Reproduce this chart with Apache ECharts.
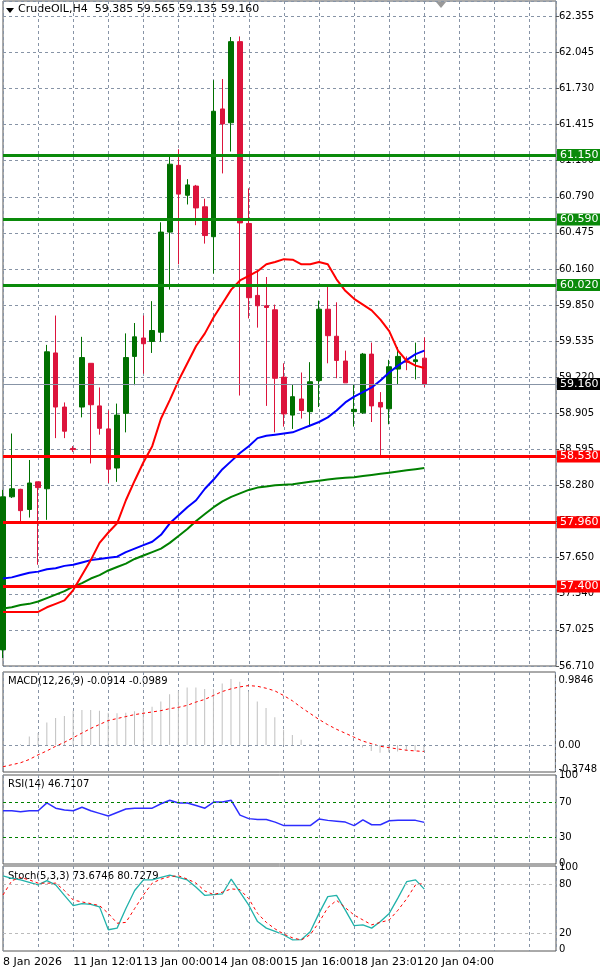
<!DOCTYPE html>
<html><head><meta charset="utf-8">
<script src="https://cdn.jsdelivr.net/npm/echarts@6/dist/echarts.min.js"></script>
<style>html,body{margin:0;padding:0;background:#fff}#c{width:600px;height:973px}</style>
</head><body><div id="c"></div>
<script>
const N = 64;
const xLabels = {0:'8 Jan 2026',8:'11 Jan 12:01',16:'13 Jan 00:00',24:'14 Jan 08:00',32:'15 Jan 16:00',40:'18 Jan 23:01',48:'20 Jan 04:00'};
const opens  = [56.85,58.18,58.245,58.07,58.31,58.25,59.43,58.96,58.60,58.96,59.34,58.97,58.77,58.43,58.905,59.40,59.56,59.53,59.61,60.48,61.06,60.80,60.88,60.70,60.44,61.55,61.43,62.135,60.555,59.93,59.84,59.805,59.22,58.89,59.03,58.92,59.19,59.81,59.575,59.36,58.92,58.91,59.42,59.00,58.945,59.29,59.36,59.355,59.385];
const closes = [58.18,58.25,58.06,58.30,58.26,59.44,58.96,58.75,58.59,59.39,58.98,58.775,58.42,58.89,59.39,59.57,59.51,59.625,60.48,61.07,60.81,60.89,60.69,60.45,61.53,61.42,62.135,60.56,59.91,59.84,59.825,59.21,58.90,59.05,58.93,59.18,59.81,59.58,59.365,59.17,58.94,59.42,58.97,58.96,59.31,59.40,59.35,59.37,59.16];
const lows   = [56.78,58.17,57.96,58.00,57.59,57.98,58.69,58.69,58.57,58.87,58.47,58.72,58.30,58.31,58.74,59.15,59.25,59.43,59.53,59.98,60.20,60.72,60.54,60.38,60.12,60.99,61.18,59.06,59.73,59.65,58.97,58.74,58.79,58.77,58.86,58.79,58.96,59.34,59.21,59.17,58.79,58.90,58.83,58.54,58.81,59.16,59.28,59.20,59.135];
const highs  = [58.24,58.73,58.25,58.50,58.31,59.50,59.755,59.00,58.62,59.57,59.34,59.13,58.93,58.99,59.60,59.69,59.755,59.88,60.565,61.14,61.20,60.94,60.89,60.77,61.80,61.81,62.175,62.18,60.86,60.15,60.09,59.85,59.34,59.16,59.26,59.35,59.885,60.015,59.87,59.45,59.16,59.43,59.52,59.09,59.37,59.48,59.40,59.52,59.565];
const maRed   = [57.18,57.18,57.18,57.18,57.18,57.22,57.25,57.28,57.37,57.50,57.63,57.78,57.87,57.95,58.15,58.32,58.48,58.62,58.86,59.02,59.19,59.34,59.49,59.60,59.74,59.86,59.98,60.06,60.10,60.14,60.20,60.22,60.245,60.24,60.20,60.20,60.22,60.20,60.07,59.97,59.90,59.85,59.80,59.72,59.62,59.45,59.36,59.32,59.30];
const maBlue  = [57.47,57.48,57.50,57.52,57.53,57.55,57.56,57.58,57.59,57.61,57.63,57.64,57.65,57.66,57.70,57.73,57.76,57.79,57.85,57.95,58.02,58.09,58.15,58.25,58.33,58.42,58.49,58.56,58.62,58.69,58.71,58.72,58.73,58.74,58.77,58.80,58.83,58.87,58.93,59.00,59.05,59.09,59.13,59.19,59.26,59.32,59.37,59.42,59.45];
const maGreen = [57.21,57.22,57.24,57.25,57.27,57.30,57.33,57.36,57.40,57.43,57.47,57.50,57.54,57.57,57.60,57.64,57.67,57.70,57.73,57.78,57.84,57.90,57.97,58.03,58.09,58.14,58.18,58.21,58.24,58.26,58.27,58.28,58.285,58.29,58.30,58.31,58.32,58.33,58.34,58.345,58.35,58.36,58.37,58.38,58.39,58.40,58.41,58.42,58.43];
const supportLevels = [58.530,57.960,57.400];
const resistLevels = [61.150,60.590,60.020];
const lastPrice = 59.160;
const priceTicks = ['56.710','57.025','57.340','57.650','57.965','58.280','58.595','58.905','59.220','59.535','59.850','60.160','60.475','60.790','61.100','61.415','61.730','62.045','62.355'];
const macdHist = [-0.03,0.0,0.01,0.13,0.18,0.34,0.41,0.44,0.52,0.53,0.53,0.52,0.49,0.48,0.49,0.51,0.55,0.58,0.66,0.77,0.82,0.87,0.87,0.85,0.85,0.93,1.00,0.96,0.81,0.66,0.56,0.42,0.23,0.15,0.08,0.01,0.01,0.0,0.0,0.0,-0.01,-0.04,-0.09,-0.12,-0.11,-0.10,-0.09,-0.09,-0.0914];
const macdSignal = [-0.33,-0.30,-0.27,-0.22,-0.15,-0.09,-0.02,0.04,0.11,0.18,0.25,0.31,0.37,0.40,0.43,0.46,0.48,0.50,0.52,0.55,0.57,0.60,0.65,0.69,0.75,0.81,0.85,0.88,0.90,0.89,0.86,0.82,0.75,0.67,0.57,0.48,0.39,0.31,0.24,0.18,0.12,0.06,0.02,-0.02,-0.04,-0.06,-0.08,-0.09,-0.0989];
const macdTicks = [0.9846,0,-0.3748];
const rsi = [60,60,59,60,60,69,63,61,60,64,60,57,54,58,62,63,63,63,68,72,69,69,66,63,70,70,72,55,51,50,50,47,43,43,43,43,50.5,49,48,47,43,49.5,44,44,48.5,49,49,49,46.71];
const rsiTicks = [100,70,30,0];
const stochK = [90,87,85,82,79,84,79,66,53.5,56,55,52,24,26,50,72,85,85,88,90.7,88,85,76,66,67,68,86,70,54,34,26,22,17.6,11.5,12,21.5,44,64.5,66,48,29,30,26,34,44,63,83,85,73.67];
const stochD = [66.5,84,88,85,81,81,81,72,60.4,58,56,53.5,44,32,33,50,66.5,81,86,89,90,86,81,71.4,67,70,74,73,62,44,33,25,18.6,14,11.5,18,33,51,60,51,42,36,30,33,36,48,62,79,80.73];
const stochTicks = [100,80,20,0];

const cats = Array.from({length:N},(_,i)=>String(i));
const candles = opens.map((o,i)=>[o,closes[i],lows[i],highs[i]]);
const gridColor = '#8794a6';
const dashed = {show:true,lineStyle:{color:gridColor,type:[3,3],width:1}};
const grids = [
  {left:3,right:44,top:1,height:665},
  {left:3,right:44,top:672,height:100},
  {left:3,right:44,top:775,height:89},
  {left:3,right:44,top:866,height:85}
].map(g=>Object.assign(g,{show:true,borderColor:'#555',borderWidth:1,backgroundColor:'#fff'}));
const xAxes = grids.map((g,k)=>({
  type:'category',gridIndex:k,data:cats,boundaryGap:false,
  axisLine:{show:false},axisTick:{show:false},
  splitLine:Object.assign({interval:3},dashed),
  axisLabel:{show:k===3,interval:0,align:'left',margin:6,fontSize:11,color:'#000',fontFamily:'DejaVu Sans',
    formatter:(v,i)=>xLabels[i]||''}
}));
const lbl = {color:'#000',fontSize:10,fontFamily:'DejaVu Sans',margin:3};
const PSTEP = (62.355-56.710)/18;
const yAxes = [
  {gridIndex:0,position:'right',min:56.71,max:62.488,interval:PSTEP,
   axisLine:{show:false},axisTick:{show:true,length:3,lineStyle:{color:'#555'}},splitLine:dashed,
   axisLabel:Object.assign({},lbl,{showMaxLabel:false,verticalAlign:'middle',formatter:v=>{const i=Math.round((v-56.71)/PSTEP);return priceTicks[i]||'';}})},
  {gridIndex:1,position:'right',min:-0.41,max:1.106,splitLine:{show:false},axisLine:{show:false},
   axisTick:{show:false},axisLabel:Object.assign({},lbl,{customValues:macdTicks,formatter:v=>v===0?'0.00':String(v)})},
  {gridIndex:2,position:'right',min:-1,max:101,splitLine:{show:false},axisLine:{show:false},
   axisTick:{show:false},axisLabel:Object.assign({},lbl,{customValues:rsiTicks})},
  {gridIndex:3,position:'right',min:-2,max:102,splitLine:{show:false},axisLine:{show:false},
   axisTick:{show:false},axisLabel:Object.assign({},lbl,{customValues:stochTicks})}
];
function levelLine(v,color,bg,width,tc){
  return {yAxis:v,lineStyle:{color:color,width:width,type:'solid'},
    label:{show:true,position:'end',distance:1,formatter:v.toFixed(3),backgroundColor:bg,color:tc||'#fff',
      fontSize:11,fontFamily:'DejaVu Sans',padding:[1,3,0,3]}};
}
const levels = [
  ...resistLevels.map(v=>levelLine(v,'#0a8a0a','#0a8a0a',3)),
  ...supportLevels.map(v=>levelLine(v,'#ff0000','#ff0000',3)),
  levelLine(lastPrice,'#8794a6','#000',1)
];
const option = {
  animation:false,backgroundColor:'#fff',
  grid:grids,xAxis:xAxes,yAxis:yAxes,
  series:[
    {type:'candlestick',xAxisIndex:0,yAxisIndex:0,data:candles,barWidth:5,
     itemStyle:{color:'#007000',color0:'#dc143c',borderColor:'#007000',borderColor0:'#dc143c',borderWidth:1},
     markLine:{symbol:'none',silent:true,data:levels,z:5}},
    {type:'line',xAxisIndex:0,yAxisIndex:0,data:maGreen,symbol:'none',lineStyle:{color:'#008000',width:2},z:3},
    {type:'line',xAxisIndex:0,yAxisIndex:0,data:maBlue,symbol:'none',lineStyle:{color:'#0000ff',width:2},z:3},
    {type:'line',xAxisIndex:0,yAxisIndex:0,data:maRed,symbol:'none',lineStyle:{color:'#ff0000',width:2},z:3},
    {type:'bar',xAxisIndex:1,yAxisIndex:1,data:macdHist,barWidth:1,itemStyle:{color:'#c0c0c0'},
     markLine:{symbol:'none',silent:true,label:{show:false},data:[{yAxis:0,lineStyle:{color:gridColor,type:[3,3],width:1}}]}},
    {type:'line',xAxisIndex:1,yAxisIndex:1,data:macdSignal,symbol:'none',lineStyle:{color:'#ff0000',width:1,type:[3,3]}},
    {type:'line',xAxisIndex:2,yAxisIndex:2,data:rsi,symbol:'none',lineStyle:{color:'#2d2dff',width:1.5},
     markLine:{symbol:'none',silent:true,label:{show:false},data:[70,30].map(v=>({yAxis:v,lineStyle:{color:'#008000',type:[3,3],width:1}}))}},
    {type:'line',xAxisIndex:3,yAxisIndex:3,data:stochK,symbol:'none',lineStyle:{color:'#20b2aa',width:1.3},
     markLine:{symbol:'none',silent:true,label:{show:false},data:[80,20].map(v=>({yAxis:v,lineStyle:{color:'#bbbbbb',type:[3,3],width:1}}))}},
    {type:'line',xAxisIndex:3,yAxisIndex:3,data:stochD,symbol:'none',lineStyle:{color:'#ff0000',width:1,type:[3,3]}}
  ],
  graphic:[
    {type:'polygon',shape:{points:[[6,8],[14,8],[10,13]]},style:{fill:'#000'}},
    {type:'text',left:18,top:4,style:{text:'CrudeOIL,H4  59.385 59.565 59.135 59.160',fontSize:11,fill:'#000',fontFamily:'DejaVu Sans'}},
    {type:'polygon',shape:{points:[[436,2],[446,2],[441,8]]},style:{fill:'#999'}},
    {type:'text',left:8,top:676,style:{text:'MACD(12,26,9) -0.0914 -0.0989',fontSize:10,fill:'#000',fontFamily:'DejaVu Sans'}},
    {type:'text',left:8,top:779,style:{text:'RSI(14) 46.7107',fontSize:10,fill:'#000',fontFamily:'DejaVu Sans'}},
    {type:'text',left:8,top:871,style:{text:'Stoch(5,3,3) 73.6746 80.7279',fontSize:10,fill:'#000',fontFamily:'DejaVu Sans'}}
  ]
};
echarts.init(document.getElementById('c')).setOption(option);
</script></body></html>
